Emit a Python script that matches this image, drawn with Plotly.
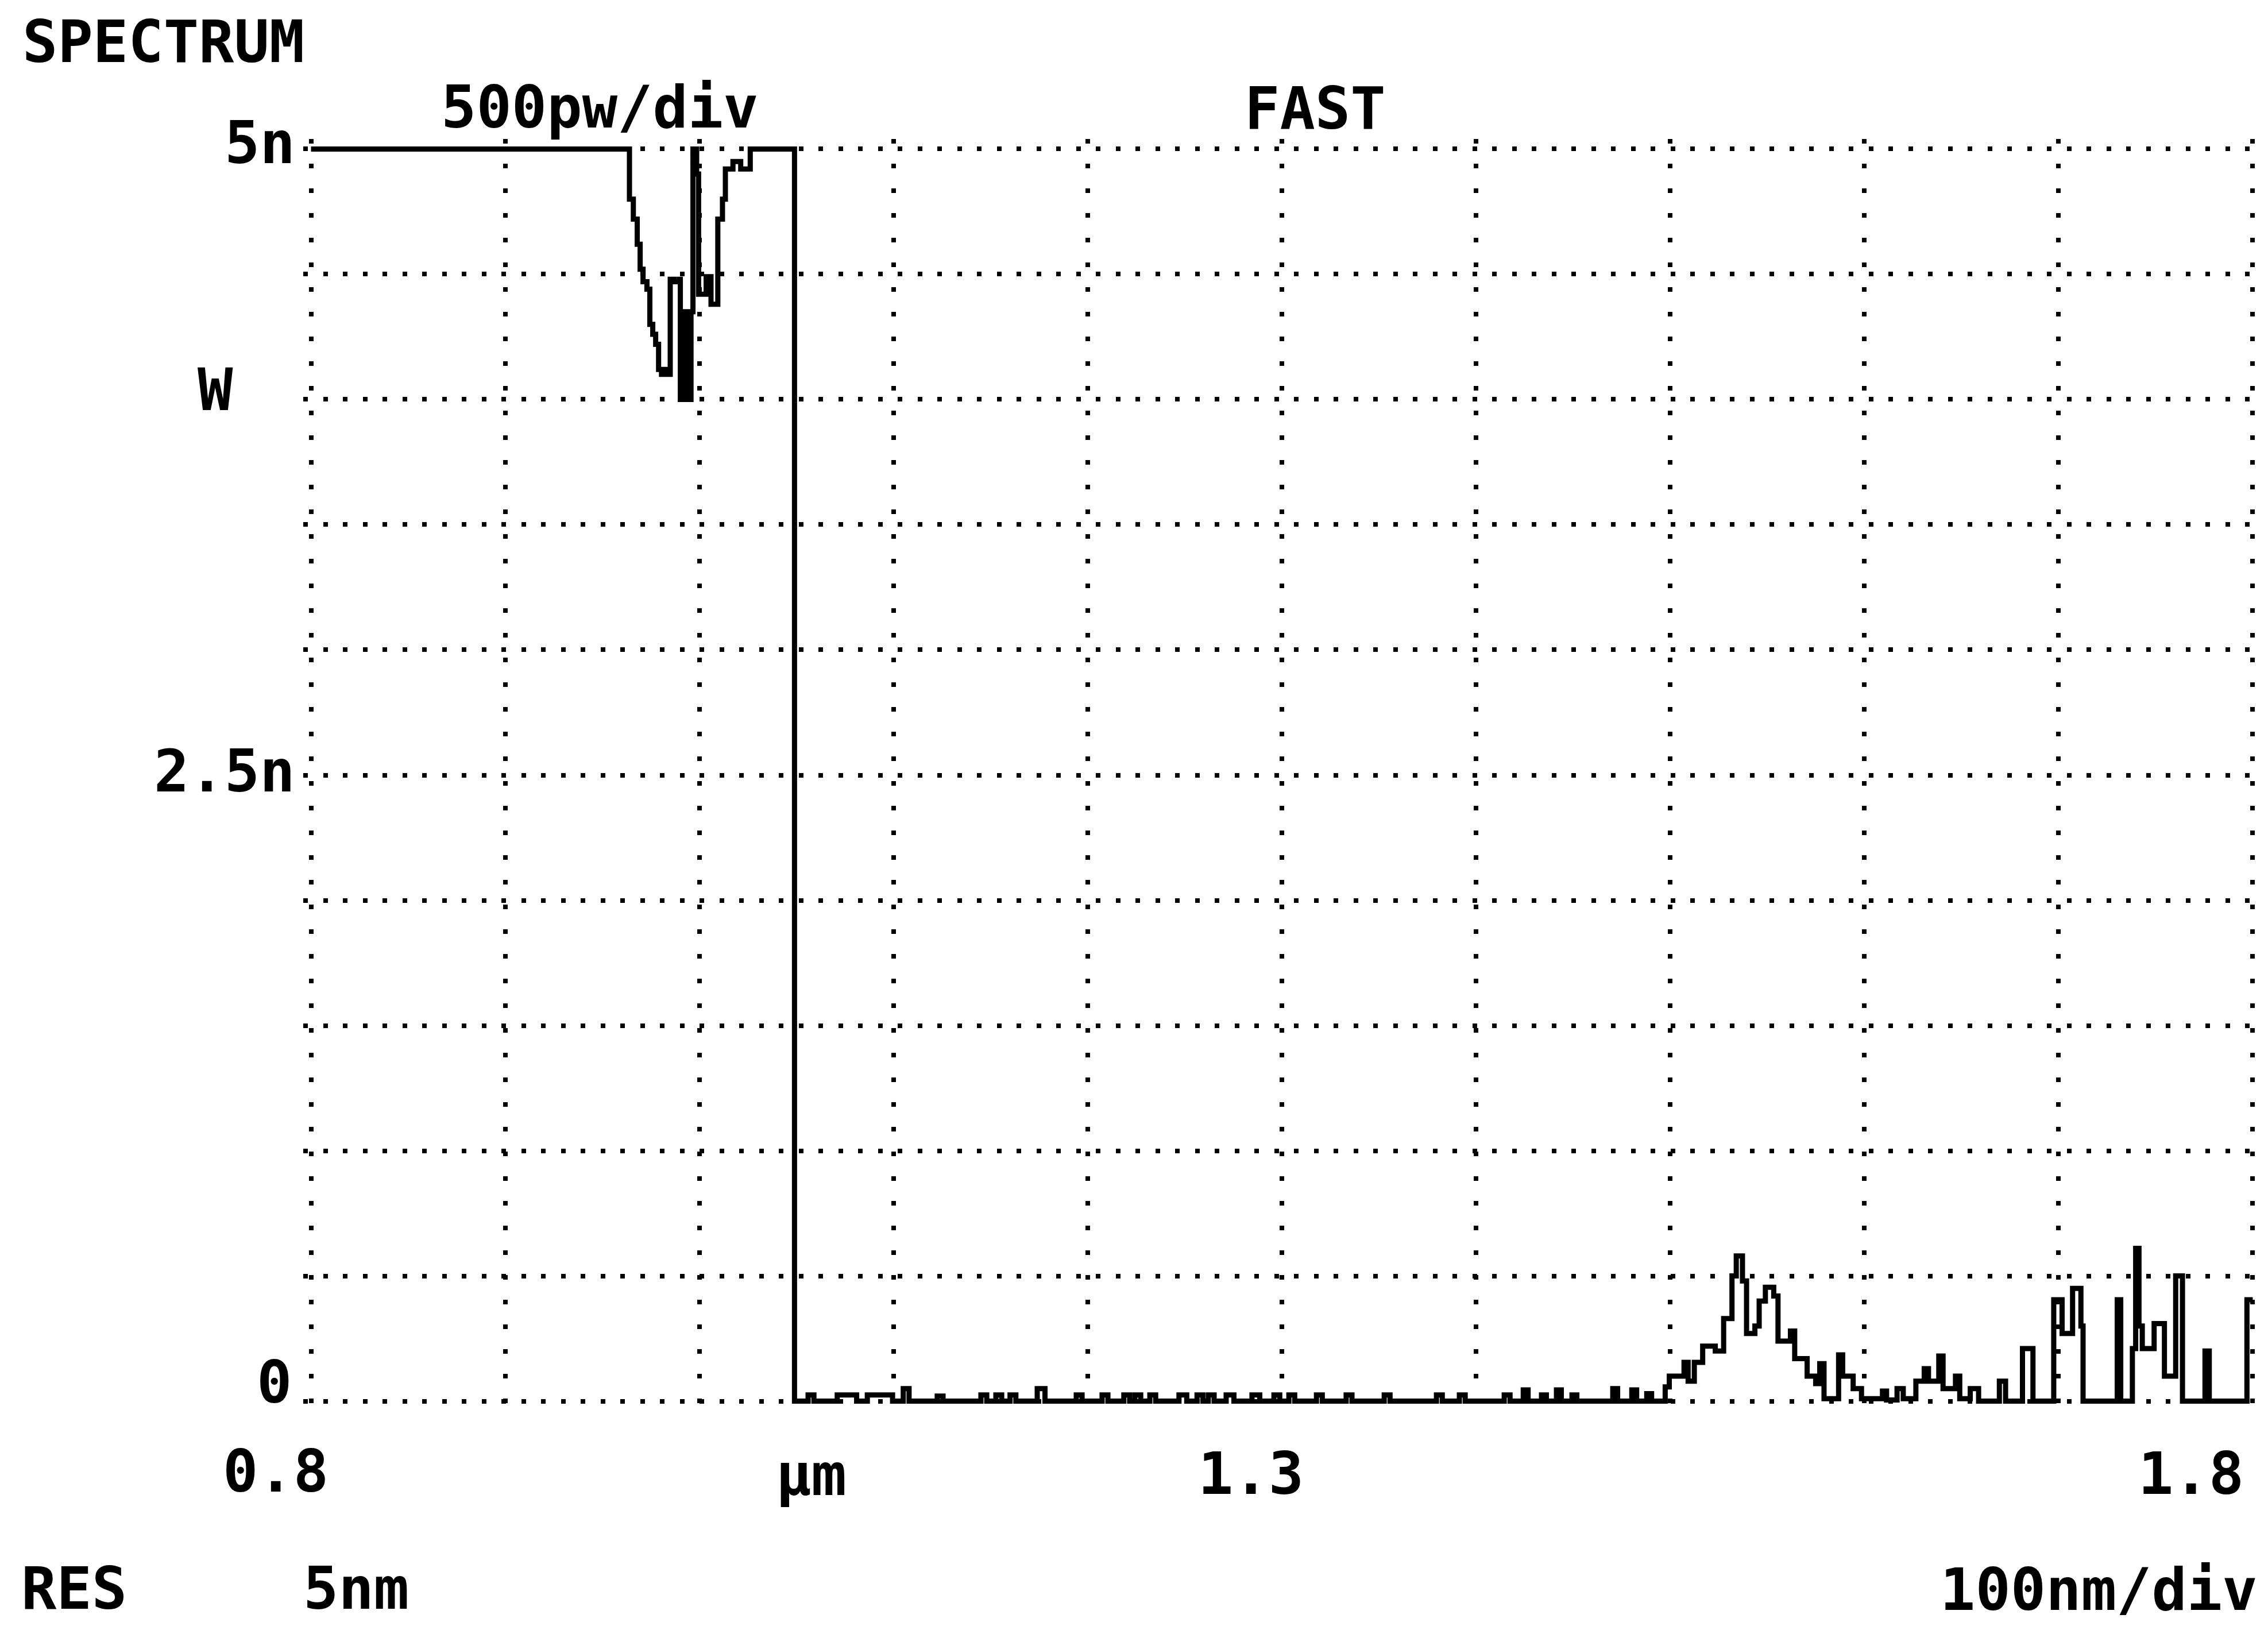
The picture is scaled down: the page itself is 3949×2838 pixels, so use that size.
import plotly.graph_objects as go

# ---------------- data ----------------
# wavelength in micrometres, optical power in nW (trace saturates at 5 nW)
wavelength_um = [
    0.800, 0.9631, 0.9640, 0.9660, 0.9680, 0.9695, 0.9710, 0.9730, 0.9745, 0.9760,
    0.9775, 0.9790, 0.9805, 0.9825, 0.9840, 0.9850, 0.9870, 0.9897, 0.9902, 0.9927,
    0.9942, 0.9957, 0.9967, 0.9986, 0.9996, 1.0035, 1.0060, 1.0095, 1.0119, 1.0134,
    1.0173, 1.0213, 1.0262, 1.0489,
    # baseline region
    1.0490, 1.0560, 1.0590, 1.0710, 1.0810, 1.0865, 1.0995, 1.1050, 1.1080, 1.1225,
    1.1255, 1.1450, 1.1480, 1.1527, 1.1557, 1.1600, 1.1630, 1.1740, 1.1780, 1.1941,
    1.1971, 1.2074, 1.2104, 1.2186, 1.2216, 1.2243, 1.2273, 1.2320, 1.2350, 1.2470,
    1.2510, 1.2563, 1.2593, 1.2621, 1.2651, 1.2713, 1.2753, 1.2846, 1.2886, 1.2959,
    1.2989, 1.3036, 1.3066, 1.3178, 1.3208, 1.3331, 1.3361, 1.3527, 1.3557, 1.3796,
    1.3826, 1.3914, 1.3944, 1.4145, 1.4175, 1.4243, 1.4268, 1.4337, 1.4362, 1.4414,
    1.4439, 1.4494, 1.4519, 1.4704, 1.4729, 1.4802, 1.4827, 1.4879, 1.4904,
    # first emission band around 1.53 um
    1.4974, 1.4995, 1.5071, 1.5092, 1.5124, 1.5167, 1.5232, 1.5275, 1.5318, 1.5340,
    1.5372, 1.5393, 1.5436, 1.5458, 1.5490, 1.5533, 1.5555, 1.5619, 1.5641, 1.5705,
    1.5749, 1.5770, 1.5792, 1.5867, 1.5888, 1.5942, 1.5985, 1.6093, 1.6114, 1.6168,
    1.6200, 1.6265, 1.6308, 1.6330, 1.6383, 1.6405, 1.6469, 1.6491, 1.6545, 1.6588,
    1.6695, 1.6727, 1.6814, 1.6868,
    # spiky region near 1.7-1.8 um
    1.6975, 1.7018, 1.7072, 1.7115, 1.7126, 1.7302, 1.7320, 1.7380, 1.7397, 1.7414,
    1.7431, 1.7492, 1.7545, 1.7603, 1.7638, 1.7754, 1.7776, 1.7970, 1.8000,
]

power_nW = [
    5.00, 5.00, 4.80, 4.72, 4.62, 4.52, 4.47, 4.44, 4.30, 4.26,
    4.22, 4.12, 4.10, 4.12, 4.10, 4.48, 4.47, 4.48, 4.00, 4.35,
    4.00, 4.35, 5.00, 4.90, 4.42, 4.49, 4.38, 4.72, 4.80, 4.92,
    4.95, 4.92, 5.00, 5.00,
    0.00, 0.025, 0.00, 0.025, 0.00, 0.025, 0.00, 0.05, 0.00, 0.02,
    0.00, 0.025, 0.00, 0.025, 0.00, 0.025, 0.00, 0.05, 0.00, 0.025,
    0.00, 0.025, 0.00, 0.025, 0.00, 0.025, 0.00, 0.025, 0.00, 0.025,
    0.00, 0.025, 0.00, 0.025, 0.00, 0.025, 0.00, 0.025, 0.00, 0.025,
    0.00, 0.025, 0.00, 0.025, 0.00, 0.025, 0.00, 0.025, 0.00, 0.025,
    0.00, 0.025, 0.00, 0.025, 0.00, 0.045, 0.00, 0.025, 0.00, 0.045,
    0.00, 0.025, 0.00, 0.05, 0.00, 0.045, 0.00, 0.03, 0.00,
    0.057, 0.10, 0.155, 0.08, 0.155, 0.22, 0.20, 0.33, 0.50, 0.58,
    0.48, 0.27, 0.30, 0.40, 0.455, 0.42, 0.24, 0.28, 0.17, 0.10,
    0.07, 0.15, 0.01, 0.185, 0.10, 0.05, 0.01, 0.04, 0.005, 0.05,
    0.01, 0.08, 0.13, 0.08, 0.18, 0.05, 0.10, 0.01, 0.05, 0.00,
    0.08, 0.00, 0.21, 0.00,
    0.405, 0.27, 0.45, 0.30, 0.00, 0.405, 0.00, 0.21, 0.61, 0.30,
    0.21, 0.31, 0.10, 0.50, 0.00, 0.20, 0.00, 0.405, 0.405,
]

x_grid = [0.8, 0.9, 1.0, 1.1, 1.2, 1.3, 1.4, 1.5, 1.6, 1.7, 1.8]
y_grid = [0.0, 0.5, 1.0, 1.5, 2.0, 2.5, 3.0, 3.5, 4.0, 4.5, 5.0]

# ---------------- geometry ----------------
W, H = 3949, 2838
X0_PX, X1_PX = 542.0, 3922.0       # pixel of 0.8 um and 1.8 um
Y5_PX, Y0_PX = 259.0, 2440.0       # pixel of 5 nW and 0 nW
x_min, x_max = 0.8, 1.8
y_min, y_max = 0.0, 5.0
xpad, ypad = 0.004, 0.04

sx = (X1_PX - X0_PX) / (x_max - x_min)
sy = (Y0_PX - Y5_PX) / (y_max - y_min)
plot_l = X0_PX - xpad * sx
plot_r = X1_PX + xpad * sx
plot_t = Y5_PX - ypad * sy
plot_b = Y0_PX + ypad * sy


def xp(px):
    return (px - plot_l) / (plot_r - plot_l)


def yp(py):
    return (plot_b - py) / (plot_b - plot_t)


FONT = dict(family="DejaVu Sans Mono", size=102, color="black", weight="bold")

fig = go.Figure()
fig.add_trace(go.Scatter(
    x=wavelength_um, y=power_nW, mode="lines",
    line=dict(color="black", width=9, shape="hv"),
    showlegend=False, hoverinfo="skip",
))

labels = [
    ("SPECTRUM", 38, 72, "left"),
    ("500pw/div", 1045, 186, "center"),
    ("FAST", 2290, 188, "center"),
    ("5n", 516, 248, "right"),
    ("W", 376, 678, "center"),
    ("2.5n", 516, 1342, "right"),
    ("0", 510, 2407, "right"),
    ("0.8", 480, 2562, "center"),
    ("µm", 1413, 2568, "center"),
    ("1.3", 2178, 2566, "center"),
    ("1.8", 3815, 2566, "center"),
    ("RES", 36, 2766, "left"),
    ("5nm", 526, 2766, "left"),
    ("100nm/div", 3933, 2768, "right"),
]
for txt, px, py, anc in labels:
    fig.add_annotation(
        x=xp(px), y=yp(py), xref="paper", yref="paper", text=txt,
        showarrow=False, xanchor=anc, yanchor="middle", font=FONT,
    )

fig.update_xaxes(
    range=[x_min - xpad, x_max + xpad], tickmode="array", tickvals=x_grid,
    showticklabels=False, ticks="", showgrid=True, gridcolor="black",
    gridwidth=8, griddash="8px,35px", zeroline=False, showline=False,
)
fig.update_yaxes(
    range=[y_min - ypad, y_max + ypad], tickmode="array", tickvals=y_grid,
    showticklabels=False, ticks="", showgrid=True, gridcolor="black",
    gridwidth=8, griddash="8px,26.5px", zeroline=False, showline=False,
)

fig.update_layout(
    width=W, height=H, autosize=False,
    paper_bgcolor="white", plot_bgcolor="white",
    margin=dict(l=plot_l, r=W - plot_r, t=plot_t, b=H - plot_b, pad=0),
    showlegend=False,
)

fig.write_html("out.html")
